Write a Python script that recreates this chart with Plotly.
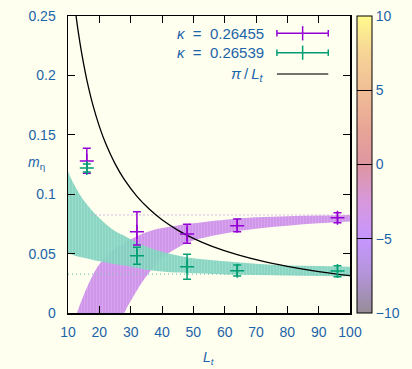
import plotly.graph_objects as go

# ---------------- data ----------------
L_pts = [16, 32, 48, 64, 96]

# kappa = 0.26455 (purple)
m_a = [0.128, 0.0684, 0.0665, 0.0735, 0.0802]
m_a_plus = [0.0106, 0.0169, 0.0082, 0.0056, 0.0042]
m_a_minus = [0.0104, 0.0112, 0.0078, 0.0051, 0.0042]

# kappa = 0.26539 (green)
m_b = [0.122, 0.0482, 0.039, 0.0356, 0.0354]
m_b_plus = [0.0034, 0.0071, 0.0104, 0.0048, 0.0044]
m_b_minus = [0.0034, 0.0072, 0.0106, 0.0045, 0.0048]

# fit bands
band_L = [10, 12, 15, 20, 25, 28, 30, 35, 40, 45, 50, 60, 70, 80, 90, 100]
band_a_upper = [-0.028, -0.007, 0.015, 0.041, 0.054, 0.059, 0.062, 0.068, 0.0715, 0.0737, 0.0755, 0.0785, 0.0805, 0.0815, 0.082, 0.0825]
band_a_lower = [-0.20, -0.16, -0.11, -0.06, -0.022, 0.0, 0.010, 0.031, 0.046, 0.055, 0.061, 0.067, 0.071, 0.0735, 0.0755, 0.077]
band_b_upper = [0.119, 0.108, 0.095, 0.080, 0.069, 0.065, 0.062, 0.056, 0.0515, 0.0485, 0.046, 0.0435, 0.0415, 0.040, 0.0395, 0.039]
band_b_lower = [0.050, 0.0485, 0.0465, 0.0435, 0.041, 0.040, 0.039, 0.0365, 0.035, 0.034, 0.0335, 0.0325, 0.032, 0.0315, 0.0312, 0.031]

# asymptotes (dotted)
asym_a = 0.0825
asym_a_L = [17.5, 100]
asym_b = 0.0328
asym_b_L = [10, 100]

# pi / L_t curve
pi_L = [12.57, 13, 14, 15, 16, 18, 20, 22, 25, 28, 32, 36, 40, 45, 50, 56, 64, 72, 80, 90, 100]
pi_y = [0.25, 0.2417, 0.2244, 0.2094, 0.1963, 0.1745, 0.1571, 0.1428, 0.1257, 0.1122, 0.0982,
        0.0873, 0.0785, 0.0698, 0.0628, 0.0561, 0.0491, 0.0436, 0.0393, 0.0349, 0.0314]

x_ticks = [10, 20, 30, 40, 50, 60, 70, 80, 90, 100]
y_ticks = [0, 0.05, 0.1, 0.15, 0.2, 0.25]
cb_ticks = [-10, -5, 0, 5, 10]

legend_labels = ["<i>κ</i>\u00a0\u00a0=\u00a0\u00a00.26455",
                 "<i>κ</i>\u00a0\u00a0=\u00a0\u00a00.26539",
                 "<i>π</i>\u2009/\u2009<i>L<sub>t</sub></i>"]

# ---------------- style ----------------
BG = "#fffff0"
BLUE = "#1c64a8"
PURPLE = "#9400d3"
GREEN = "#009e73"
FONT = "Liberation Sans"

colorscale = [
    [0.0, "rgb(150,140,150)"],
    [0.125, "rgb(178,148,215)"],
    [0.25, "rgb(198,150,255)"],
    [0.375, "rgb(215,152,220)"],
    [0.5, "rgb(222,150,160)"],
    [0.625, "rgb(232,166,150)"],
    [0.75, "rgb(240,190,150)"],
    [0.875, "rgb(246,212,150)"],
    [1.0, "rgb(255,250,140)"],
]

fig = go.Figure()

# purple band
fig.add_trace(go.Scatter(x=band_L, y=band_a_lower, mode="lines", line=dict(width=0, shape="spline"),
                         showlegend=False, hoverinfo="skip"))
fig.add_trace(go.Scatter(x=band_L, y=band_a_upper, mode="lines", line=dict(width=0, shape="spline"),
                         fill="tonexty", fillcolor="#d29ceb",
                         fillpattern=dict(shape="|", bgcolor="#cf96ea", fgcolor="#dfb4f1", size=3, solidity=0.35),
                         showlegend=False, hoverinfo="skip"))
# green band
fig.add_trace(go.Scatter(x=band_L, y=band_b_lower, mode="lines", line=dict(width=0, shape="spline"),
                         showlegend=False, hoverinfo="skip"))
fig.add_trace(go.Scatter(x=band_L, y=band_b_upper, mode="lines", line=dict(width=0, shape="spline"),
                         fill="tonexty", fillcolor="rgba(130,212,192,0.92)",
                         fillpattern=dict(shape="|", bgcolor="rgba(128,211,190,0.92)", fgcolor="rgba(170,228,214,0.95)", size=3, solidity=0.35),
                         showlegend=False, hoverinfo="skip"))

# dotted asymptotes
fig.add_trace(go.Scatter(x=asym_a_L, y=[asym_a] * len(asym_a_L), mode="lines",
                         line=dict(color="#c9a6d6", width=1.3, dash="1px,3px"), showlegend=False))
fig.add_trace(go.Scatter(x=asym_b_L, y=[asym_b] * len(asym_b_L), mode="lines",
                         line=dict(color="#7cc9b6", width=1.3, dash="1px,3px"), showlegend=False))

# pi / L_t
fig.add_trace(go.Scatter(x=pi_L, y=pi_y, mode="lines", line=dict(color="black", width=1.3, shape="spline"),
                         showlegend=False))

# data points
for y, ep, em, c in [(m_a, m_a_plus, m_a_minus, PURPLE), (m_b, m_b_plus, m_b_minus, GREEN)]:
    fig.add_trace(go.Scatter(
        x=L_pts, y=y, mode="markers",
        marker=dict(symbol="cross-thin", size=10, line=dict(color=c, width=1.5), color=c),
        error_y=dict(type="data", symmetric=False, array=ep, arrayminus=em,
                     color=c, thickness=1.5, width=4),
        showlegend=False))

# colorbar carrier
fig.add_trace(go.Scatter(
    x=[None], y=[None], mode="markers",
    marker=dict(color=[0], cmin=-10, cmax=10, colorscale=colorscale, showscale=True,
                colorbar=dict(x=1.025, xanchor="left", xref="paper", thickness=15, len=1, lenmode="fraction",
                              y=0.5, yanchor="middle", xpad=0, ypad=0,
                              outlinewidth=1, outlinecolor="black",
                              tickvals=cb_ticks, ticks="inside", ticklen=15, tickcolor="black", tickwidth=1,
                              tickfont=dict(family=FONT, size=14, color=BLUE))),
    showlegend=False, hoverinfo="skip"))

# ---------------- legend (manual) ----------------
def px2x(px):
    return (px - 68.3) / 281.7

def px2y(py):
    return (313 - py) / 297

rows = [33.3, 52.7, 74.0]
x0, x1, xc = px2x(277), px2x(328.3), px2x(302.7)
shapes = []
annotations = []
for i, (lab, py) in enumerate(zip(legend_labels, rows)):
    yy = px2y(py)
    annotations.append(dict(x=px2x(266), y=yy, xref="paper", yref="paper", text=lab, showarrow=False,
                            xanchor="right", yanchor="middle", font=dict(family=FONT, size=15, color=BLUE)))
    if i < 2:
        c = [PURPLE, GREEN][i]
        shapes.append(dict(type="line", xref="paper", yref="paper", x0=x0, x1=x1, y0=yy, y1=yy,
                           line=dict(color=c, width=1.5)))
        for xx in (x0, x1):
            shapes.append(dict(type="line", xref="paper", yref="paper", x0=xx, x1=xx,
                               y0=yy - 0.011, y1=yy + 0.011, line=dict(color=c, width=1.5)))
        shapes.append(dict(type="line", xref="paper", yref="paper", x0=xc, x1=xc,
                           y0=yy - 0.024, y1=yy + 0.024, line=dict(color=c, width=1.5)))
    else:
        shapes.append(dict(type="line", xref="paper", yref="paper", x0=x0, x1=x1, y0=yy, y1=yy,
                           line=dict(color="#444444", width=1.5)))

# axis titles
annotations.append(dict(x=px2x(37), y=px2y(163), xref="paper", yref="paper",
                        text="<i>m</i><sub>η</sub>", showarrow=False, xanchor="center", yanchor="middle",
                        font=dict(family=FONT, size=14, color=BLUE)))
annotations.append(dict(x=px2x(209), y=px2y(358), xref="paper", yref="paper",
                        text="<i>L<sub>t</sub></i>", showarrow=False, xanchor="center", yanchor="middle",
                        font=dict(family=FONT, size=14, color=BLUE)))

axis_common = dict(showline=True, linecolor="black", linewidth=1.5, mirror="ticks", ticks="inside",
                   ticklen=7, tickcolor="black", tickwidth=1, showgrid=False, zeroline=False,
                   tickfont=dict(family=FONT, size=14, color=BLUE))

fig.update_layout(
    width=412, height=369,
    margin=dict(l=68, r=62, t=16, b=56, autoexpand=False),
    paper_bgcolor=BG, plot_bgcolor=BG,
    xaxis=dict(range=[10, 100], tickvals=x_ticks, ticklabelstandoff=6, automargin=False, **axis_common),
    yaxis=dict(range=[0, 0.25], tickvals=y_ticks, ticklabelstandoff=8, automargin=False, **axis_common),
    shapes=shapes, annotations=annotations, showlegend=False,
)

fig.write_html(
    "out.html",
    config={"displayModeBar": False, "staticPlot": True},
    post_script="document.body.style.margin='0';document.body.style.background='#fffff0';",
)
